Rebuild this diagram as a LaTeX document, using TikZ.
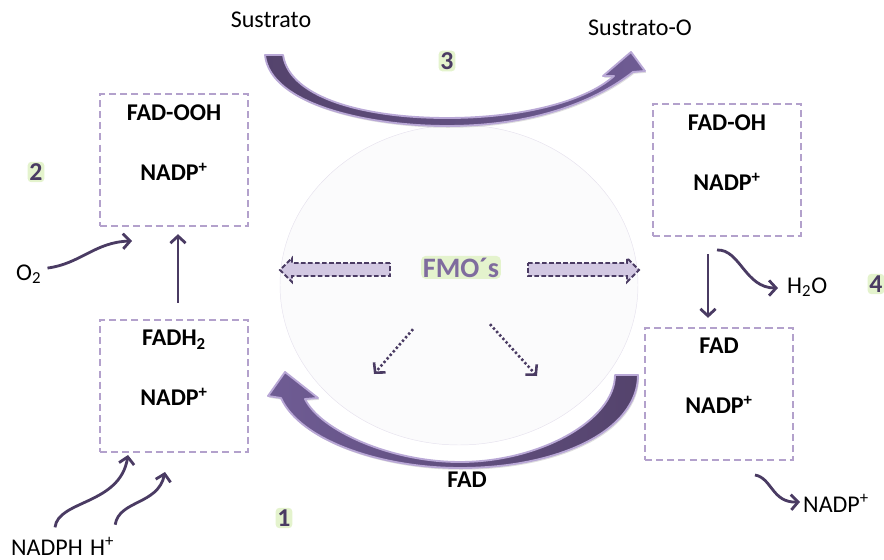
\documentclass[tikz,border=0pt]{standalone}
\usepackage{fontspec}
\setmainfont{Carlito}
\usetikzlibrary{
    arrows.meta,
    calc,
    positioning,
    shadows
}

\definecolor{boxlilac}{HTML}{B3A1CC}
\definecolor{darkplum}{HTML}{4A3B63}
\definecolor{plumdark}{HTML}{54436C}
\definecolor{plumlight}{HTML}{6F5C94}
\definecolor{rimlilac}{HTML}{B9A8D6}
\definecolor{glowgreen}{HTML}{E4F3CD}
\definecolor{fmotext}{HTML}{7F6C9E}
\definecolor{blockfill}{HTML}{D2C8E2}
\definecolor{bubble}{HTML}{FBFBFC}
\definecolor{bubbleedge}{HTML}{E6E2EE}

\tikzset{
    statebox/.style={draw=boxlilac, dash pattern=on 6pt off 3.5pt, line width=2pt,
        minimum width=4.44cm, minimum height=3.96cm},
    boxtext/.style={font=\fontsize{20.5}{24}\selectfont\bfseries, anchor=base, inner sep=0pt},
    plain/.style={font=\fontsize{20.5}{24}\selectfont, inner sep=0pt},
    stepnum/.style={font=\fontsize{22}{25}\selectfont\bfseries, text=darkplum,
        fill=glowgreen, rounded corners=3pt, inner sep=1.5pt},
    flow/.style={draw=darkplum, line width=2.4pt, -{Straight Barb[length=6pt,width=13pt]}},
    dotflow/.style={flow, line width=2.2pt, dash pattern=on 2pt off 2pt},
    bigarrow/.style={draw=rimlilac, line width=1.6pt, line join=round,
        drop shadow={shadow xshift=1pt, shadow yshift=-1.5pt, opacity=0.25}},
    blockarrow/.style={draw=darkplum, fill=blockfill, line width=1.6pt,
        dash pattern=on 4pt off 2pt}
}

\begin{document}
\begin{tikzpicture}[x=0.03cm, y=-0.03cm]
    \useasboundingbox (0,0) rectangle (884,560);

    % enzyme bubble
    \filldraw[fill=bubble, draw=bubbleedge, line width=0.4pt] (459,285) ellipse [x radius=179, y radius=160];

    % big curved arrows
    \draw[bigarrow, left color=plumdark, right color=plumlight]
        (265,55) .. controls (270,105) and (370,126) .. (447,126)
        .. controls (540,126) and (600,98) .. (633,72)
        -- (645,71) -- (631,52) -- (603,76) -- (614,76)
        .. controls (585,102) and (520,118) .. (447,118)
        .. controls (370,118) and (290,100) .. (283,55) -- cycle;
    \draw[bigarrow, left color=plumlight, right color=plumdark]
        (638,375) .. controls (638,430) and (560,468) .. (460,468)
        .. controls (380,468) and (300,440) .. (281,398)
        -- (268,396) -- (285,372) -- (318,398) -- (305,399)
        .. controls (320,430) and (390,462) .. (460,462)
        .. controls (540,462) and (615,420) .. (615,375) -- cycle;

    % states
    \node[statebox] (ooh) at (174,160) {};
    \node[statebox] (fadh) at (174,386) {};
    \node[statebox] (foh) at (727,170) {};
    \node[statebox] (fad) at (719,394) {};

    \node[boxtext] (oohtop) at ($(ooh.north)+(0,28)$) {FAD-OOH};
    \node[boxtext] (oohbot) at ($(ooh.north)+(0,88)$) {NADP\textsuperscript{+}};
    \node[boxtext] (fadhtop) at ($(fadh.north)+(0,27)$) {FADH\textsubscript{2}};
    \node[boxtext] (fadhbot) at ($(fadh.north)+(0,87)$) {NADP\textsuperscript{+}};
    \node[boxtext] (fohtop) at ($(foh.north)+(0,28)$) {FAD-OH};
    \node[boxtext] (fohbot) at ($(foh.north)+(0,88)$) {NADP\textsuperscript{+}};
    \node[boxtext] (fadtop) at ($(fad.north)+(0,27)$) {FAD};
    \node[boxtext] (fadbot) at ($(fad.north)+(0,87)$) {NADP\textsuperscript{+}};

    % outside labels
    \node[plain, anchor=base] (sub) at (271,28) {Sustrato};
    \node[plain, anchor=base] (subo) at (640,35) {Sustrato-O};
    \node[plain, anchor=base west] (otwo) at (16,280) {O\textsubscript{2}};
    \node[plain, anchor=base west] (water) at (787,293) {H\textsubscript{2}O};
    \node[plain, anchor=base west] (nadpout) at (803,512) {NADP\textsuperscript{+}};
    \node[plain, anchor=base west] (nadph) at (11,555) {NADPH};
    \node[plain, anchor=base west] (hplus) at (90,555) {H\textsuperscript{+}};
    \node[boxtext] (fadlabel) at (467,487) {FAD};

    % step numbers
    \node[stepnum] (num1) at (284,518) {1};
    \node[stepnum] (num2) at (36,172) {2};
    \node[stepnum] (num3) at (447,61) {3};
    \node[stepnum] (num4) at (876,284) {4};

    % FMO
    \node[font=\fontsize{24}{28}\selectfont\bfseries, text=fmotext, fill=glowgreen, rounded corners=4pt,
        inner sep=1.5pt, anchor=base] (fmo) at (461,277) {FMO´s};
    \draw[blockarrow] (390,263) -- (292,263) -- (292,258) -- (280,270) -- (292,282) -- (292,276) -- (390,276) -- cycle;
    \draw[blockarrow] (528,263) -- (627,263) -- (627,258) -- (639,270) -- (627,282) -- (627,276) -- (528,276) -- cycle;
    \coordinate (dotl) at (374,374);
    \coordinate (dotr) at (537,376);
    \draw[dotflow] ($(fmo.south)+(-48,50)$) -- (dotl);
    \draw[dotflow] ($(fmo.south)+(29,45)$) -- (dotr);

    % small connectors
    \coordinate (o2in) at (132,241);
    \draw[flow] ($(otwo.east)+(6,-6)$) .. controls (80,264) and (95,242) .. (o2in);
    \draw[flow] ($(fadh.north)+(4,-16)$) -- ($(ooh.south)+(4,7)$);
    \coordinate (nadphin) at (128,455);
    \coordinate (hplusin) at (165,472);
    \draw[flow] ($(nadph.north)+(8,-12)$) .. controls (58,500) and (120,505) .. (nadphin);
    \draw[flow] ($(hplus.north)+(13,-12)$) .. controls (119,500) and (158,505) .. (hplusin);
    \draw[flow] ($(foh.south)+(-19,17)$) -- ($(fad.north)+(-11,-9)$);
    \coordinate (waterout) at (717,250);
    \draw[flow] (waterout) .. controls (740,249) and (745,288) .. ($(water.west)+(-9,1)$);
    \coordinate (nadpsrc) at (755,475);
    \draw[flow] (nadpsrc) .. controls (772,478) and (772,503) .. ($(nadpout.west)+(-3,-1)$);
\end{tikzpicture}
\end{document}
